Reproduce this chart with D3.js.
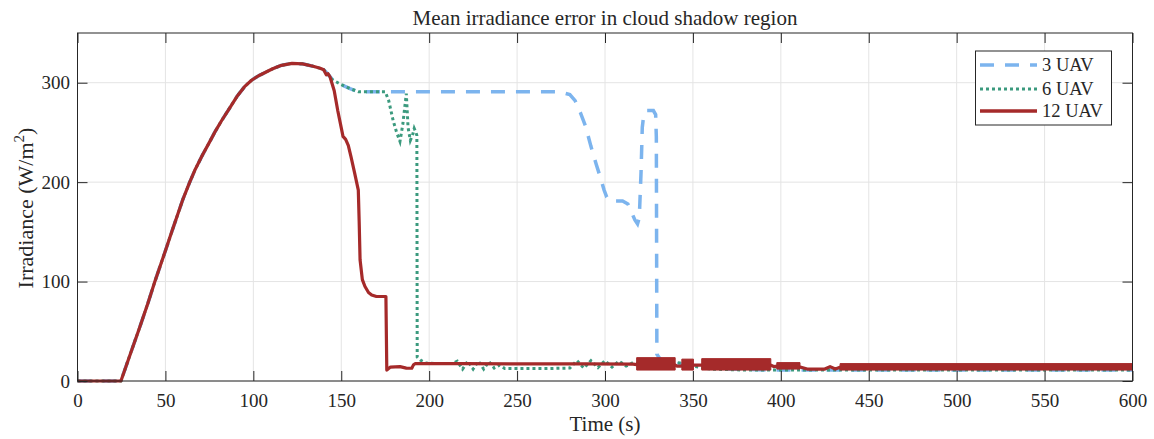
<!DOCTYPE html>
<html><head><meta charset="utf-8">
<script src="https://cdn.jsdelivr.net/npm/d3@7"></script>
<style>
body{margin:0;background:#fff}
text{font-family:"Liberation Serif","Times New Roman",serif;fill:#262626}
</style>
</head><body><svg id="c" width="1154" height="439"></svg>
<script>
// ---- data ----
const xTicks = [0,50,100,150,200,250,300,350,400,450,500,550,600];
const yTicks = [0,100,200,300];
const seriesNames = ["3 UAV","6 UAV","12 UAV"];

// shared ramp (all three series coincide here)
const commonT = [0,24.7,30,35,40,44,50,53.6,60,63.6,67,71,75,78,82,86.7,91,95,99,103,107,111,116,122,128,134,138,140];
const commonY = [0,0,27,52,78,100,131,150,183,199,213,227,240,250,262,275,287,296,302.5,307,310.5,314,317.5,319.5,319,316.5,314.5,313];

// 12 UAV
const time12 = [141.5,142.5,143.6,146,148,151,152.5,154,155.5,157.5,159.7,160.2,160.7,162,163.5,165.5,167.3,170,175.4,175.9,178,183.4,187,190.1,191,192,220,250,290,316,318,330,339,341,343,347,350,352,354,360,380,394,396,398,405,411,415,420,425,428,431,434,470,520,560,600];
const uav12  = [308,309,306,292,272,246,243,237,226,210,192,160,122,102,95,89,86.5,85,85,11,14,14.4,13,12.8,16,17.5,17.4,17.3,17.2,17,16.5,17,17,15,15,16,16,16,16,16,16,16,14.5,15,15,14,12,12,12,14.5,12,14,14,14,14,14];
// 12 UAV dense oscillation envelopes: [start, end, low, high]
const bandStart12 = [318,343.7,355,397.7,433.7];
const bandEnd12   = [339.9,350.3,394.3,410.9,600];
const bandLow12   = [11,11,11,12,11];
const bandHigh12  = [23.5,22,22.5,18.5,17.5];

// 6 UAV
const time6 = [142,145,150,155,159.7,175,177,179.5,181.5,183.4,185,187,188,189.3,190.5,191.5,192.5,193,193.2,195,198,205,213,216,219,222,225,228,231,234,237,240,243,255,265,280,284,288,292,296,300,304,308,312,316,320,330,340,344,350,360,380,400,450,500,550,600];
const uav6  = [309.5,303,298,294,291,291,282,262,250,241,258,289,255,242,247,254,250,247,24,21,18,17.5,17.5,20,12,20,12,20,12,19.5,13,16,12.5,12.5,12.5,13,20.5,13,20.5,13.5,20.5,14,20,15,18.5,17,18.5,18.5,18,15,12,11,11,11,11,11,11];

// 3 UAV
const time3 = [142,145,150,155,159.7,274,280,283,286,289,292,295,297.5,299.5,301,303,306,310,313,315,317,318.5,319.5,320.5,321.2,322,323.5,327.5,328.8,329.2,329.5,331,334,345,352,356,370,395,450,500,550,600];
const uav3  = [309.5,303,298,294,291,291,288,282,270,256,236,218,204,192,185,181,181,181,178,170,162,158,164,210,255,267,272,272,268,245,27,23,18,17,18,15,12,11,11,11,11,11];

// ---- layout ----
const svg = d3.select("#c");
const L = 77.5, R = 1132.5, T = 33, B = 381;
const x = d3.scaleLinear().domain([0,600]).range([L,R]);
const y = d3.scaleLinear().domain([0,350]).range([B,T]);
const axisCol = "#262626";
const serif = '"Liberation Serif","Times New Roman",serif';
const colors = {"3 UAV":"#7cb4ee","6 UAV":"#3b9a7e","12 UAV":"#a52a2a"};

// grid
const g = svg.append("g");
g.selectAll(".gx").data(xTicks).join("line")
  .attr("x1",d=>x(d)).attr("x2",d=>x(d)).attr("y1",T).attr("y2",B)
  .attr("stroke","#e4e4e4").attr("stroke-width",1);
g.selectAll(".gy").data(yTicks).join("line")
  .attr("y1",d=>y(d)).attr("y2",d=>y(d)).attr("x1",L).attr("x2",R)
  .attr("stroke","#e4e4e4").attr("stroke-width",1);

// series
const mk = (ts, ys) => ts.map((t,i)=>[t, ys[i]]);
const d3s = mk(commonT,commonY).concat(mk(time3,uav3));
const d6s = mk(commonT,commonY).concat(mk(time6,uav6));
const d12s = mk(commonT,commonY).concat(mk(time12,uav12));
const line = d3.line().x(d=>x(d[0])).y(d=>y(d[1]));
const plot = svg.append("g");
plot.append("path").datum(d3s).attr("d",line).attr("fill","none")
  .attr("stroke",colors["3 UAV"]).attr("stroke-width",3.5).attr("stroke-dasharray","14,11");
plot.append("path").datum(d6s).attr("d",line).attr("fill","none")
  .attr("stroke",colors["6 UAV"]).attr("stroke-width",3).attr("stroke-dasharray","3,3");
plot.append("path").datum(d12s).attr("d",line).attr("fill","none")
  .attr("stroke",colors["12 UAV"]).attr("stroke-width",3.2).attr("stroke-linejoin","round");
const bands = bandStart12.map((s,i)=>({s, e:bandEnd12[i], lo:bandLow12[i], hi:bandHigh12[i]}));
plot.selectAll(".band").data(bands).join("path")
  .attr("d", b => d3.area().x(d=>x(d)).y0(y(b.lo)).y1(y(b.hi))([b.s,b.e]))
  .attr("fill",colors["12 UAV"]).attr("stroke",colors["12 UAV"]).attr("stroke-width",1);

// axes
const fs = 19;
const ax = svg.append("g");
const bx = ax.append("g").attr("transform",`translate(0,${B})`)
  .call(d3.axisBottom(x).tickValues(xTicks).tickSize(-10).tickPadding(13));
const lx = ax.append("g").attr("transform",`translate(${L},0)`)
  .call(d3.axisLeft(y).tickValues(yTicks).tickSize(-10).tickPadding(7.5));
const tx = ax.append("g").attr("transform",`translate(0,${T})`)
  .call(d3.axisTop(x).tickValues(xTicks).tickSize(-10).tickFormat(""));
const rx = ax.append("g").attr("transform",`translate(${R},0)`)
  .call(d3.axisRight(y).tickValues(yTicks).tickSize(-10).tickFormat(""));
[bx,lx,tx,rx].forEach(a=>{
  a.attr("font-family",serif);
  a.select(".domain").remove();
  a.selectAll("line").attr("stroke",axisCol).attr("stroke-width",1);
  a.selectAll("text").attr("font-size",fs).style("font-family",serif).attr("fill",axisCol);
});
lx.selectAll("text").attr("dy","0.33em");
ax.append("rect").attr("x",L).attr("y",T).attr("width",R-L).attr("height",B-T)
  .attr("fill","none").attr("stroke",axisCol).attr("stroke-width",1);

// labels
svg.append("text").attr("x",(L+R)/2).attr("y",25).attr("text-anchor","middle")
  .attr("font-size",21).text("Mean irradiance error in cloud shadow region");
svg.append("text").attr("x",(L+R)/2).attr("y",431).attr("text-anchor","middle")
  .attr("font-size",21).text("Time (s)");
const yl = svg.append("text").attr("transform","translate(33,208) rotate(-90)")
  .attr("text-anchor","middle").attr("font-size",22);
yl.append("tspan").text("Irradiance (W/m");
yl.append("tspan").attr("font-size",15).attr("dy","-0.6em").text("2");
yl.append("tspan").attr("dy","0.41em").text(")");

// legend
const lg = svg.append("g");
lg.append("rect").attr("x",975.5).attr("y",51).attr("width",136).attr("height",74)
  .attr("fill","#fff").attr("stroke",axisCol).attr("stroke-width",1);
const rowY = [65,89,111];
const dashes = {"3 UAV":"14,11","6 UAV":"3,3","12 UAV":null};
const widths = {"3 UAV":3.5,"6 UAV":3,"12 UAV":3.5};
seriesNames.forEach((n,i)=>{
  const ln = lg.append("line").attr("x1",980).attr("x2",1037).attr("y1",rowY[i]).attr("y2",rowY[i])
    .attr("stroke",colors[n]).attr("stroke-width",widths[n]);
  if (dashes[n]) ln.attr("stroke-dasharray",dashes[n]);
  lg.append("text").attr("x",1042).attr("y",rowY[i]).attr("dy","0.33em")
    .attr("font-size",18.5).text(n);
});
</script></body></html>
